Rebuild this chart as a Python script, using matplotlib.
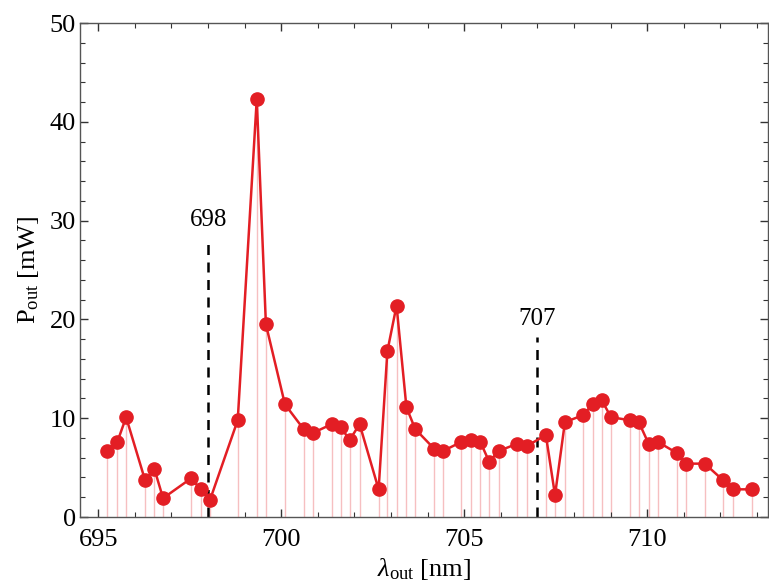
import matplotlib
matplotlib.use("Agg")
import matplotlib.pyplot as plt
from matplotlib.ticker import MultipleLocator

wavelength = [695.25, 695.52, 695.76, 696.28, 696.53, 696.77, 697.53, 697.81, 698.05,
              698.81, 699.33, 699.58, 700.10, 700.61, 700.86, 701.38, 701.62, 701.87,
              702.14, 702.66, 702.90, 703.15, 703.42, 703.66, 704.18, 704.43, 704.92,
              705.19, 705.44, 705.68, 705.95, 706.44, 706.72, 707.23, 707.48, 707.75,
              708.24, 708.51, 708.76, 709.01, 709.52, 709.77, 710.04, 710.29, 710.80,
              711.05, 711.57, 712.08, 712.33, 712.85]
power = [6.7, 7.6, 10.1, 3.7, 4.9, 1.9, 3.9, 2.8, 1.7,
         9.8, 42.3, 19.5, 11.4, 8.9, 8.5, 9.4, 9.1, 7.8,
         9.4, 2.8, 16.8, 21.4, 11.1, 8.9, 6.9, 6.7, 7.6,
         7.8, 7.6, 5.6, 6.7, 7.4, 7.2, 8.3, 2.2, 9.6,
         10.3, 11.4, 11.8, 10.1, 9.8, 9.6, 7.4, 7.6, 6.5,
         5.4, 5.4, 3.7, 2.8, 2.8]
marker_lines = [698, 707]
marker_tops = [28.2, 18.2]

plt.rcParams['font.family'] = ['Liberation Serif', 'DejaVu Serif']
plt.rcParams['mathtext.fontset'] = 'custom'
plt.rcParams['mathtext.rm'] = 'Liberation Serif'
plt.rcParams['mathtext.it'] = 'Liberation Serif:italic'

fig = plt.figure(figsize=(7.69, 5.88), dpi=100)
ax = fig.add_axes([80/769, 71/588, 688/769, 494/588])

red = '#e31e24'
ax.vlines(wavelength, 0, power, color='#f6bfc1', lw=1.0, zorder=1)
ax.plot(wavelength, power, '-o', color=red, lw=1.8, ms=9.5, zorder=3)

for xv, top in zip(marker_lines, marker_tops):
    ax.plot([xv, xv], [0, top], ls=(0, (4, 3)), color='black', lw=1.8, zorder=2)
    ax.text(xv, top + 0.7, str(xv), ha='center', va='bottom', fontsize=18)

ax.set_xlim(694.5, 713.3)
ax.set_ylim(0, 50)
ax.xaxis.set_major_locator(MultipleLocator(5))
ax.xaxis.set_minor_locator(MultipleLocator(1))
ax.yaxis.set_major_locator(MultipleLocator(10))
ax.yaxis.set_minor_locator(MultipleLocator(2))
ax.tick_params(which='both', direction='in', top=True, right=True, labelsize=19, color='#333333')
ax.tick_params(which='major', length=6, width=1)
ax.tick_params(which='minor', length=3.5, width=0.8)
ax.tick_params(axis='x', which='major', pad=9)
ax.tick_params(axis='y', which='major', pad=3)
for s in ax.spines.values():
    s.set_color('#555555')
    s.set_linewidth(1.0)

ax.set_xlabel(r'$\lambda_{\mathrm{out}}$ [nm]', fontsize=19, labelpad=3)
ax.set_ylabel(r'$\mathrm{P}_{\mathrm{out}}$ [mW]', fontsize=19, labelpad=6)

fig.savefig('out.png', dpi=100)
